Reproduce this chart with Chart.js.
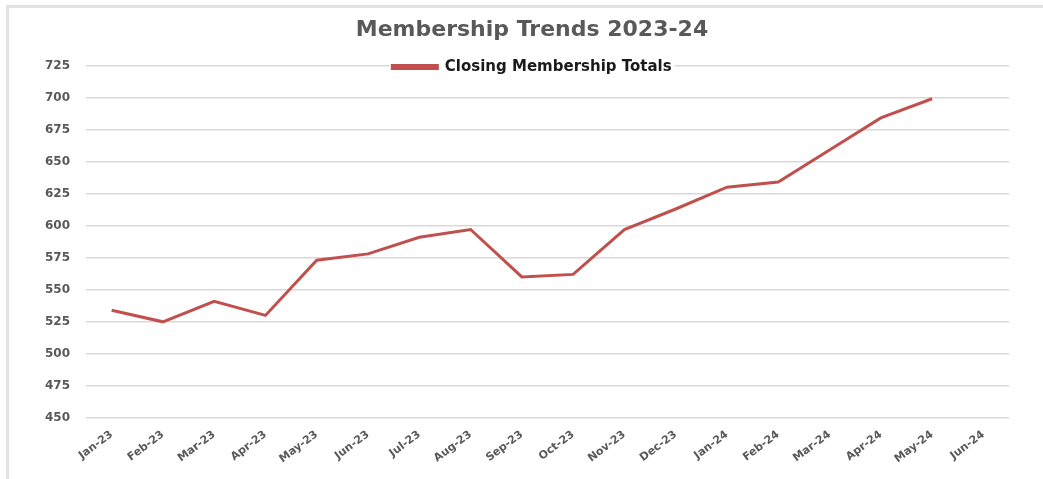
<!DOCTYPE html>
<html>
<head>
<meta charset="utf-8">
<script src="https://cdn.jsdelivr.net/npm/chart.js@4.4.0/dist/chart.umd.min.js"></script>
<style>
  html, body { margin: 0; padding: 0; background: #fff; }
  #frame {
    position: absolute; left: 6px; top: 5px;
    width: 1034px; height: 471px;
    border-top: 3px solid #e2e2e2; border-left: 3px solid #e2e2e2;
  }
</style>
</head>
<body>
<div id="frame"><canvas id="myChart" width="1034" height="471"></canvas></div>
<script>
// monthly closing totals, Jan 2023 - Jun 2024 (June not reported yet)
var months = ['Jan-23', 'Feb-23', 'Mar-23', 'Apr-23', 'May-23', 'Jun-23',
              'Jul-23', 'Aug-23', 'Sep-23', 'Oct-23', 'Nov-23', 'Dec-23',
              'Jan-24', 'Feb-24', 'Mar-24', 'Apr-24', 'May-24', 'Jun-24'];
var closingTotals = [534, 525, 541, 530, 573, 578, 591, 597, 560, 562, 597, 613,
                     630, 634, 659, 684, 699, null];
var yMin = 450, yMax = 725, yStep = 25;

var grey = '#595959';
var red = '#c0504d';
var legendSink = 19;   // how far the legend reaches down into the plot
var headerShift = 36;  // title + legend sit a bit right of the canvas centre

// legend sits on top of the plot: shrink its box so the plot starts at the
// legend's middle, then paint it again over the top gridline
var legendOverlap = {
  id: 'legendOverlap',
  beforeLayout: function(chart){
    var lg = chart.legend;
    if (lg && !lg._shrunk) {
      var fit = lg.fit;
      lg.fit = function(){ fit.call(this); this.height -= legendSink; };
      lg._shrunk = true;
    }
  },
  afterLayout: function(chart){
    if (chart.titleBlock) chart.titleBlock.left += headerShift;
    if (chart.legend) chart.legend.left += headerShift;
  },
  beforeDatasetsDraw: function(chart){
    var lg = chart.legend, ctx = chart.ctx;
    var hb = lg.legendHitBoxes[0];
    if (!hb) return;
    ctx.save();
    ctx.fillStyle = '#fff';
    ctx.fillRect(hb.left - 3, hb.top - 1, hb.width + 6, hb.height + 2);
    ctx.restore();
    // legend clips to its own box, so give it back the full height while drawing
    lg.bottom += legendSink;
    lg.draw();
    lg.bottom -= legendSink;
  }
};

function chart(){
  var ctx = document.getElementById('myChart').getContext('2d');
  var myChart = new Chart(ctx, {
    type: 'line',
    data: {
      labels: months,
      datasets: [{
        label: 'Closing Membership Totals',
        data: closingTotals,
        borderColor: red,
        backgroundColor: red,
        borderWidth: 3,
        pointRadius: 0,
        tension: 0
      }]
    },
    options: {
      responsive: false,
      animation: false,
      layout: { padding: { left: 10, right: 34, top: 0, bottom: 0 } },
      plugins: {
        title: {
          display: true,
          text: 'Membership Trends 2023-24',
          color: grey,
          font: { family: 'DejaVu Sans', size: 22, weight: 'bold' },
          padding: { top: 9, bottom: 10 }
        },
        legend: {
          display: true,
          labels: {
            color: '#1a1a1a',
            boxWidth: 45,
            boxHeight: 3,
            padding: 6,
            font: { family: 'DejaVu Sans', size: 15, weight: 'bold' }
          }
        },
        tooltip: { enabled: false }
      },
      scales: {
        x: {
          offset: true,
          grid: { display: false },
          border: { display: false },
          ticks: {
            color: grey,
            font: { family: 'DejaVu Sans', size: 11, weight: 'bold' },
            minRotation: 37,
            maxRotation: 37,
            autoSkip: false,
            padding: 2
          },
          afterFit: function(s){ s.height = 61; }
        },
        y: {
          min: yMin,
          max: yMax,
          border: { display: false },
          grid: { color: '#d9d9d9', lineWidth: 1.5, drawTicks: false },
          ticks: {
            stepSize: yStep,
            color: grey,
            padding: 16,
            font: { family: 'DejaVu Sans', size: 12, weight: 'bold' }
          },
          afterFit: function(s){ s.width = 67; }
        }
      }
    },
    plugins: [legendOverlap]
  });
}

chart()
</script>
</body>
</html>
